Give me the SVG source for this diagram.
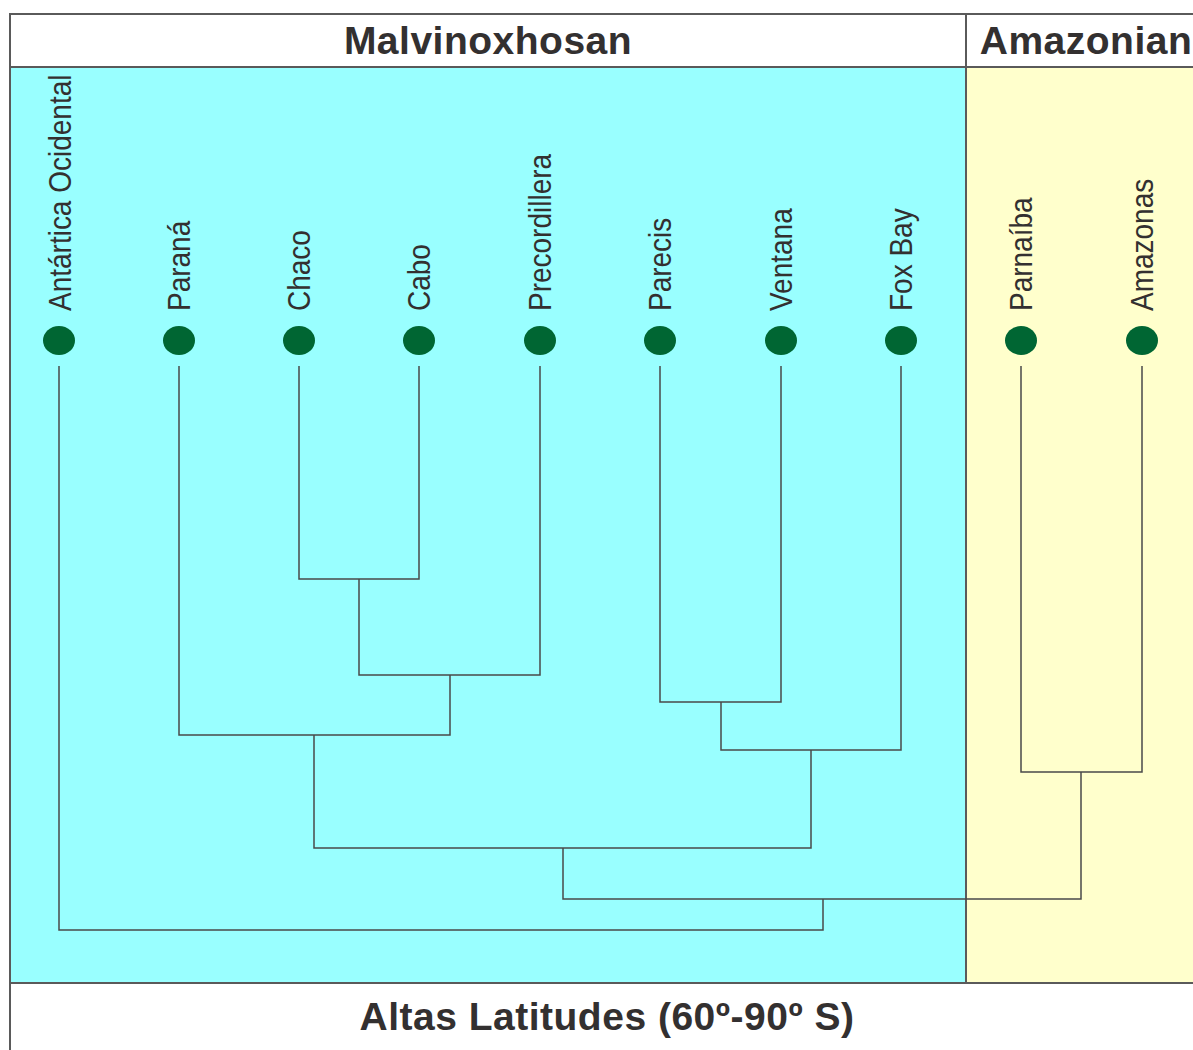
<svg xmlns="http://www.w3.org/2000/svg" width="1193" height="1050" viewBox="0 0 1193 1050">
<defs>
<style>
.hdr{font-family:"Liberation Sans",Arial,sans-serif;font-weight:bold;font-size:39px;fill:#333030;text-anchor:middle;letter-spacing:0.5px}
.lbl{font-family:"Liberation Sans",Arial,sans-serif;font-size:28px;fill:#333030}
.node ellipse{fill:#006633}
.conn{fill:none;stroke:#4a4a4a;stroke-width:1.5}
.frame{fill:none;stroke:#5a5a5a;stroke-width:2}
</style>
</defs>
<rect x="0" y="0" width="1193" height="1050" fill="#ffffff"/>
<g id="regions">
<rect x="10" y="67" width="956" height="916" fill="#99ffff"/>
<rect x="966" y="67" width="230" height="916" fill="#ffffcc"/>
<path class="frame" d="M10,1052 V14 H1196 M10,67 H1196 M10,983 H1196 M966,14 V983"/>
</g>
<g id="headers">
<text class="hdr" x="488" y="54">Malvinoxhosan</text>
<text class="hdr" x="1086" y="54">Amazonian</text>
<text class="hdr" x="607" y="1030">Altas Latitudes (60º-90º S)</text>
</g>
<g id="connectors" class="conn">
<path d="M299,366 V579 H419 V366"/>
<path d="M359,579 V675 H540 V366"/>
<path d="M450,675 V735 H179 V366"/>
<path d="M660,366 V702 H781 V366"/>
<path d="M721,702 V750 H901 V366"/>
<path d="M314,735 V848 H811 V750"/>
<path d="M1021,366 V772 H1142 V366"/>
<path d="M563,848 V899 H1081 V772"/>
<path d="M823,899 V930 H59 V366"/>
</g>
<g id="n-antartica" class="node"><ellipse cx="59" cy="340.5" rx="16" ry="14.5"/><text class="lbl" transform="translate(71,311) rotate(-90) scale(1,1.15)">Antártica Ocidental</text></g>
<g id="n-parana" class="node"><ellipse cx="179" cy="340.5" rx="16" ry="14.5"/><text class="lbl" transform="translate(190,311) rotate(-90) scale(1,1.15)">Paraná</text></g>
<g id="n-chaco" class="node"><ellipse cx="299" cy="340.5" rx="16" ry="14.5"/><text class="lbl" transform="translate(310,311) rotate(-90) scale(1,1.15)">Chaco</text></g>
<g id="n-cabo" class="node"><ellipse cx="419" cy="340.5" rx="16" ry="14.5"/><text class="lbl" transform="translate(430,311) rotate(-90) scale(1,1.15)">Cabo</text></g>
<g id="n-precordillera" class="node"><ellipse cx="540" cy="340.5" rx="16" ry="14.5"/><text class="lbl" transform="translate(551,311) rotate(-90) scale(1,1.15)">Precordillera</text></g>
<g id="n-parecis" class="node"><ellipse cx="660" cy="340.5" rx="16" ry="14.5"/><text class="lbl" transform="translate(671,311) rotate(-90) scale(1,1.15)">Parecis</text></g>
<g id="n-ventana" class="node"><ellipse cx="781" cy="340.5" rx="16" ry="14.5"/><text class="lbl" transform="translate(792,311) rotate(-90) scale(1,1.15)">Ventana</text></g>
<g id="n-foxbay" class="node"><ellipse cx="901" cy="340.5" rx="16" ry="14.5"/><text class="lbl" transform="translate(912,311) rotate(-90) scale(1,1.15)">Fox Bay</text></g>
<g id="n-parnaiba" class="node"><ellipse cx="1021" cy="340.5" rx="16" ry="14.5"/><text class="lbl" transform="translate(1032,311) rotate(-90) scale(1,1.15)">Parnaíba</text></g>
<g id="n-amazonas" class="node"><ellipse cx="1142" cy="340.5" rx="16" ry="14.5"/><text class="lbl" transform="translate(1153,311) rotate(-90) scale(1,1.15)">Amazonas</text></g>
</svg>
